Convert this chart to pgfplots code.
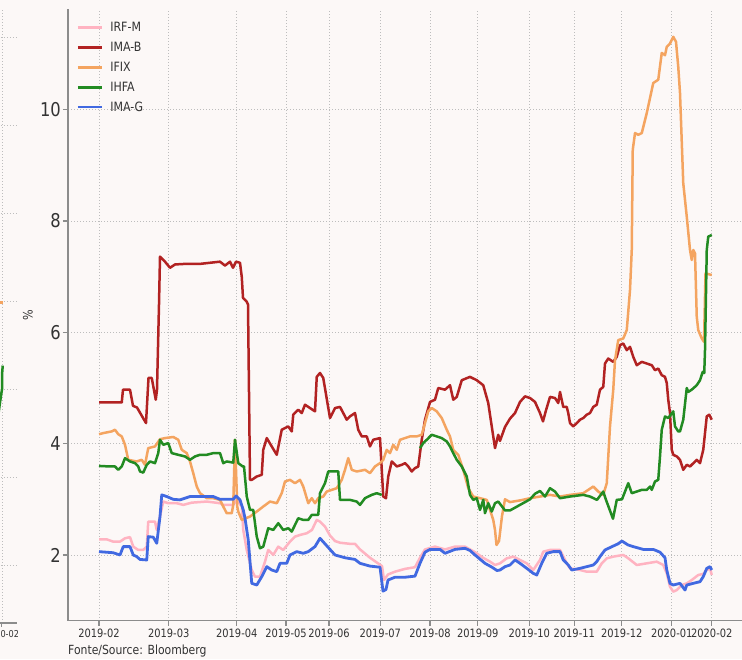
\documentclass[border=0pt]{standalone}
\usepackage{pgfplots}
\pgfplotsset{compat=1.18}
\usepackage{fontspec}
\setmainfont{DejaVu Sans}[FakeStretch=0.86]
\definecolor{bg}{HTML}{FCF8F7}
\definecolor{irfm}{HTML}{FFB3C1}
\definecolor{imab}{HTML}{B22222}
\definecolor{ifix}{HTML}{F4A460}
\definecolor{ihfa}{HTML}{228B22}
\definecolor{imag}{HTML}{4169E1}
\definecolor{spine}{HTML}{8C8C8C}
\definecolor{gridc}{HTML}{BDBDBD}
\definecolor{txt}{HTML}{333333}
\begin{document}
\begin{tikzpicture}[x=1pt,y=1pt]
\useasboundingbox (0,0) rectangle (742,659);
\fill[bg] (0,0) rectangle (742,659);
\clip (0,0) rectangle (742,659);
% fragment of the neighbouring chart
\begin{scope}
\clip (0,0) rectangle (17.5,659);
\begin{axis}[
 at={(-23pt,36pt)}, anchor=south west, scale only axis, width=40pt, height=615pt,
 xmin=-10, xmax=6, ymin=0.34, ymax=7.34,
 axis x line*=bottom, axis y line*=left,
 axis line style={spine, line width=1.1pt},
 xtick={0}, xticklabels={2020-02}, ytick={1,2,3,4,5,6,7}, yticklabels={},
 grid=major, major grid style={gridc, line width=0.9pt, dash pattern=on 1pt off 2pt},
 tick style={spine, line width=1pt}, major tick length=4pt, tick align=outside,
 x tick label style={font=\fontsize{9.5}{10}\selectfont, text=txt},
 every axis plot/.append style={line width=2.5pt, line join=round},
]
\addplot[ifix] coordinates {(-3,3.99) (0.4,3.99)};
\addplot[ihfa] coordinates {(-2,2.6) (-0.8,2.85) (0,3.0) (0.1,3.2) (0.3,3.27)};
\end{axis}
\end{scope}
% main chart
\begin{axis}[
 at={(68pt,38.3pt)}, anchor=south west, scale only axis, width=692pt, height=611.7pt,
 xmin=-12.4, xmax=264.4, ymin=0.819, ymax=11.81,
 axis x line*=bottom, axis y line*=left,
 axis line style={spine, line width=1.3pt},
 xtick={0,27.9,55.1,74.8,92,112.5,132.4,151.5,172.1,190.1,209.1,229.1,245.1},
 xticklabels={2019-02,2019-03,2019-04,2019-05,2019-06,2019-07,2019-08,2019-09,2019-10,2019-11,2019-12,2020-01,2020-02},
 ytick={2,4,6,8,10},
 grid=major, major grid style={gridc, line width=0.9pt, dash pattern=on 1pt off 2pt},
 tick style={spine, line width=1.1pt}, major tick length=5pt, tick align=outside,
 x tick label style={font=\fontsize{11.5}{12}\selectfont, text=txt},
 y tick label style={font=\fontsize{19}{20}\selectfont, text=txt, inner sep=2pt},
 /pgf/number format/assume math mode=true,
 ylabel={\%},
 every axis y label/.style={at={(axis description cs:-0.058,0.5)}, rotate=90, anchor=center, font=\fontsize{13}{14}\selectfont, text=txt},
 legend style={at={(axis description cs:0.012,0.982)}, anchor=north west, draw=none, fill=none, inner sep=0pt,
   font=\fontsize{12.8}{14}\selectfont, text=txt, row sep=5pt,
   /tikz/every odd column/.append style={column sep=5pt}},
 legend cell align=left,
 legend image code/.code={\draw[#1, line width=2.8pt] (0pt,0pt) -- (24pt,0pt);},
 unbounded coords=jump,
 every axis plot/.append style={line width=2.5pt, line join=round},
]
\addplot[irfm] coordinates {(0,2.28) (3.1,2.28) (5.7,2.24) (8.4,2.24) (10.4,2.30) (12.4,2.32) (13.7,2.15) (15.7,2.09) (17.7,2.09) (19.1,2.15) (19.7,2.60) (22.4,2.60) (23.1,2.45) (24.4,2.69) (25.7,2.96) (27.7,2.93) (31.1,2.93) (33.7,2.90) (37.1,2.94) (43.1,2.96) (48.4,2.93) (49.7,2.90) (53.7,2.90) (55.1,2.99) (57.1,2.87) (57.7,2.45) (59.1,2.09) (61.1,1.73) (62.4,1.61) (64.4,1.61) (66.4,1.88) (67.7,2.09) (69.7,2.00) (71.7,2.15) (73.7,2.09) (76.4,2.24) (78.4,2.33) (80.4,2.36) (83.1,2.39) (85.2,2.45) (87.1,2.63) (88.4,2.60) (90.4,2.51) (92.4,2.35) (94.4,2.25) (96.4,2.22) (100.4,2.20) (102.4,2.20) (104.4,2.10) (108.4,1.95) (111.6,1.85) (113.2,1.80) (114.0,1.55) (115.6,1.65) (118.4,1.70) (122.4,1.75) (126.4,1.78) (128.4,1.95) (130.4,2.10) (134.4,2.15) (138.4,2.10) (142.4,2.15) (146.4,2.15) (148.4,2.10) (150.4,2.05) (153.6,1.95) (156.4,1.88) (158.4,1.82) (160.4,1.85) (163.1,1.94) (165.7,1.97) (168.4,1.91) (171.1,1.85) (173.7,1.73) (176.4,1.91) (177.7,2.06) (180.4,2.09) (184.4,2.09) (187.1,1.85) (188.4,1.76) (192.4,1.73) (195.1,1.70) (199.1,1.70) (201.1,1.85) (203.1,1.94) (205.7,1.97) (209.7,2.00) (211.7,1.94) (215.1,1.82) (219.1,1.85) (223.1,1.88) (225.7,1.82) (227.1,1.67) (228.4,1.43) (229.7,1.34) (231.1,1.37) (233.1,1.46) (235.1,1.49) (237.1,1.55) (239.7,1.64) (241.7,1.66) (243.1,1.73) (244.4,1.76) (245.1,1.64)};
\addlegendentry{IRF-M}
\addplot[imab] coordinates {(0,4.74) (9.1,4.74) (9.6,4.97) (12.4,4.97) (13.6,4.68) (15.2,4.65) (18.8,4.37) (19.8,5.18) (21.1,5.18) (22.7,4.79) (23.2,4.97) (24.0,6.5) (24.4,7.36) (26.4,7.27) (28.4,7.16) (30.4,7.22) (34.4,7.23) (40.4,7.23) (44.4,7.25) (48.4,7.27) (50.4,7.20) (52.4,7.27) (53.6,7.16) (54.8,7.27) (56.4,7.25) (57.1,7.0) (57.6,6.62) (59.1,6.55) (59.6,6.5) (60.4,3.35) (61.1,3.35) (63.1,3.41) (65.1,3.44) (65.7,3.89) (67.1,4.10) (69.1,3.95) (71.1,3.80) (73.1,4.25) (75.7,4.31) (77.1,4.22) (77.7,4.52) (79.7,4.61) (81.1,4.55) (82.4,4.70) (84.4,4.64) (86.4,4.58) (87.1,5.20) (88.4,5.27) (89.7,5.18) (92.4,4.46) (94.4,4.64) (96.4,4.66) (97.7,4.55) (99.1,4.43) (100.4,4.49) (102.4,4.55) (103.7,4.25) (105.1,4.13) (107.1,4.13) (108.4,3.95) (109.7,4.07) (112.4,4.10) (113.7,3.05) (114.8,3.02) (115.7,3.41) (117.1,3.68) (119.1,3.59) (121.1,3.62) (122.4,3.65) (123.7,3.59) (125.1,3.50) (126.4,3.56) (127.7,3.59) (129.1,4.07) (130.4,4.43) (132.4,4.75) (134.4,4.79) (135.7,5.00) (138.4,4.97) (140.4,5.05) (141.7,4.79) (143.1,4.84) (145.1,5.14) (148.4,5.20) (151.1,5.14) (153.7,5.05) (155.7,4.73) (157.1,4.31) (158.4,3.92) (159.7,4.16) (160.4,4.05) (162.4,4.30) (164.4,4.45) (166.4,4.55) (168.4,4.75) (170.4,4.85) (172.4,4.82) (174.4,4.75) (176.4,4.55) (177.6,4.40) (178.8,4.60) (180.4,4.84) (182.4,4.82) (183.7,4.73) (184.4,4.93) (185.7,4.66) (187.1,4.66) (187.7,4.55) (188.4,4.37) (189.7,4.31) (191.1,4.37) (192.4,4.43) (193.7,4.46) (195.1,4.52) (196.4,4.55) (197.7,4.66) (199.1,4.70) (200.4,4.97) (201.7,5.02) (202.4,5.44) (203.7,5.53) (205.7,5.47) (207.1,5.56) (208.4,5.77) (209.7,5.80) (211.1,5.68) (212.4,5.74) (213.7,5.56) (215.1,5.41) (217.1,5.47) (219.1,5.44) (221.1,5.41) (222.4,5.32) (223.7,5.35) (225.1,5.23) (226.4,5.20) (227.1,5.09) (227.7,4.79) (228.4,4.55) (229.1,3.89) (229.7,3.80) (231.1,3.77) (232.4,3.71) (233.7,3.53) (235.1,3.62) (236.4,3.59) (239.1,3.71) (240.4,3.65) (241.7,3.89) (243.1,4.49) (244.1,4.52) (245.1,4.43)};
\addlegendentry{IMA-B}
\addplot[ifix] coordinates {(0,4.17) (1.7,4.19) (5.1,4.22) (6.4,4.25) (7.7,4.17) (9.1,4.13) (10.4,3.98) (11.7,3.71) (15.1,3.68) (17.1,3.71) (18.4,3.62) (19.7,3.92) (22.4,3.95) (24.4,4.08) (26.4,4.10) (29.7,4.12) (31.7,4.07) (33.1,3.89) (35.1,3.83) (36.4,3.68) (37.7,3.47) (39.1,3.23) (40.4,3.11) (43.1,3.02) (45.7,3.02) (48.4,2.99) (49.7,2.87) (51.1,2.75) (53.1,2.75) (53.7,2.90) (54.4,4.07) (55.3,2.87) (55.7,2.78) (57.1,2.63) (60.4,2.69) (63.1,2.78) (65.7,2.87) (68.4,2.96) (71.1,2.93) (73.1,3.11) (74.4,3.32) (76.4,3.35) (78.4,3.29) (80.4,3.35) (81.7,3.23) (83.7,2.93) (85.1,3.02) (86.4,2.93) (87.7,3.02) (89.7,3.05) (91.1,3.14) (93.1,3.17) (95.1,3.20) (97.1,3.35) (98.4,3.53) (99.7,3.74) (101.1,3.53) (103.1,3.50) (106.4,3.53) (108.4,3.47) (110.4,3.59) (112.4,3.65) (113.7,3.71) (115.1,3.89) (116.4,3.83) (117.7,3.98) (119.1,3.89) (120.4,4.07) (122.4,4.10) (124.4,4.13) (127.1,4.13) (129.1,4.16) (130.4,4.37) (131.7,4.58) (133.1,4.64) (135.1,4.58) (137.1,4.46) (139.1,4.25) (140.4,4.13) (141.7,3.89) (143.7,3.80) (145.7,3.53) (147.7,3.20) (149.7,3.05) (152.4,3.02) (155.1,2.99) (157.7,2.63) (158.4,2.45) (159.0,2.18) (160.0,2.25) (161.2,2.70) (162.4,3.00) (164.4,2.95) (168.4,2.98) (172.4,3.02) (176.4,3.05) (180.4,3.08) (184.4,3.05) (188.4,3.08) (193.7,3.11) (197.7,3.23) (199.7,3.14) (201.7,3.08) (203.1,3.29) (204.4,4.31) (205.7,4.97) (206.4,5.50) (207.7,5.86) (209.7,5.89) (211.1,6.04) (212.4,6.76) (213.1,7.48) (213.5,9.28) (214.4,9.58) (215.7,9.55) (217.1,9.58) (219.1,9.94) (221.7,10.48) (223.7,10.54) (225.1,11.02) (226.4,10.98) (227.1,11.13) (228.4,11.19) (229.7,11.31) (230.8,11.22) (231.7,10.77) (232.4,10.30) (233.7,8.68) (235.1,8.08) (236.4,7.48) (237.1,7.30) (237.7,7.48) (238.4,7.42) (239.1,6.28) (239.7,6.04) (241.1,5.89) (242.0,5.83) (242.6,7.06) (245.1,7.03)};
\addlegendentry{IFIX}
\addplot[ihfa] coordinates {(0,3.60) (4.4,3.59) (6.4,3.59) (7.7,3.53) (9.1,3.59) (10.4,3.74) (12.4,3.68) (14.4,3.65) (15.7,3.59) (16.4,3.50) (17.7,3.48) (19.1,3.62) (20.4,3.68) (22.4,3.65) (23.7,3.83) (24.4,4.07) (25.7,3.98) (27.7,4.01) (29.1,3.83) (31.7,3.80) (34.4,3.77) (36.4,3.71) (38.4,3.77) (40.4,3.80) (43.1,3.80) (45.7,3.83) (48.4,3.83) (49.7,3.65) (51.1,3.68) (53.7,3.66) (54.4,4.07) (55.7,3.65) (57.5,3.59) (58.0,3.59) (58.6,3.30) (59.1,3.05) (60.4,2.81) (61.7,2.81) (63.1,2.33) (64.4,2.12) (65.7,2.15) (67.7,2.48) (69.7,2.45) (71.7,2.57) (73.7,2.45) (75.7,2.48) (77.1,2.42) (79.7,2.66) (81.7,2.63) (83.7,2.63) (85.1,2.72) (87.7,2.72) (88.4,3.11) (90.4,3.29) (91.7,3.50) (95.7,3.50) (96.4,2.99) (100.4,2.99) (103.1,2.96) (104.4,2.90) (106.4,3.02) (109.1,3.08) (111.1,3.11) (113.1,3.08) (120,nan) (128.4,3.92) (129.7,4.01) (131.1,4.07) (133.1,4.16) (135.1,4.13) (137.1,4.10) (139.1,4.04) (140.4,3.95) (141.7,3.83) (143.1,3.71) (145.1,3.59) (147.1,3.41) (148.4,3.08) (149.7,2.99) (151.1,3.02) (152.4,2.81) (153.7,2.99) (154.4,2.75) (155.7,2.93) (157.1,2.78) (158.4,2.93) (159.7,2.96) (162.4,2.80) (164.4,2.80) (166.4,2.85) (168.4,2.90) (170.4,2.95) (172.4,3.00) (174.4,3.10) (176.4,3.15) (178.4,3.05) (180.4,3.20) (182.4,3.14) (184.4,3.02) (188.4,3.05) (193.7,3.08) (196.4,3.05) (199.2,2.99) (201.7,3.14) (202.8,2.99) (205.6,2.65) (207.1,2.99) (209.2,3.00) (211.7,3.29) (213.1,3.11) (215.1,3.14) (217.1,3.17) (219.1,3.17) (220.4,3.23) (221.1,3.17) (222.4,3.32) (223.7,3.35) (224.4,3.77) (225.1,4.25) (226.4,4.49) (227.7,4.46) (229.7,4.58) (230.4,4.31) (231.7,4.22) (232.4,4.22) (233.7,4.43) (235.1,5.00) (235.7,4.93) (237.1,4.97) (239.1,5.05) (240.4,5.14) (241.5,5.29) (242.1,5.27) (242.4,5.68) (243.1,7.48) (243.7,7.72) (245.1,7.75)};
\addlegendentry{IHFA}
\addplot[imag, line width=2.8pt] coordinates {(0,2.06) (5.7,2.04) (8.4,2.00) (9.7,2.15) (12.4,2.15) (13.7,2.00) (15.1,1.97) (16.4,1.92) (19.1,1.91) (19.7,2.33) (21.7,2.32) (23.1,2.21) (24.4,2.69) (25.1,3.08) (27.1,3.05) (29.7,3.00) (32.4,2.99) (36.4,3.05) (40.4,3.05) (45.7,3.05) (48.4,3.00) (53.7,3.00) (54.8,3.06) (56.4,2.99) (57.7,2.81) (58.4,2.66) (59.7,2.27) (61.1,1.49) (63.1,1.46) (65.1,1.61) (67.1,1.79) (69.1,1.73) (71.1,1.70) (72.4,1.85) (75.1,1.85) (76.4,2.00) (79.1,2.06) (81.7,2.03) (83.7,2.06) (86.4,2.15) (88.4,2.30) (90.4,2.20) (92.4,2.10) (94.4,2.00) (98.4,1.95) (102.4,1.92) (104.4,1.85) (108.4,1.80) (112.4,1.78) (113.6,1.35) (114.8,1.38) (115.6,1.55) (118.4,1.60) (122.4,1.60) (126.4,1.62) (128.4,1.85) (130.4,2.05) (132.4,2.10) (136.4,2.10) (138.4,2.03) (142.4,2.10) (146.4,2.12) (148.4,2.08) (150.4,2.00) (154.4,1.85) (157.2,1.78) (159.2,1.72) (160.4,1.73) (162.4,1.79) (164.4,1.82) (166.4,1.91) (168.4,1.85) (171.1,1.76) (173.7,1.67) (175.1,1.64) (177.1,1.85) (179.1,2.03) (181.7,2.06) (184.4,2.06) (185.7,1.91) (187.7,1.82) (189.1,1.73) (192.4,1.76) (195.1,1.79) (197.7,1.82) (199.1,1.88) (200.4,1.97) (202.4,2.09) (205.2,2.15) (207.6,2.20) (209.2,2.25) (211.6,2.18) (213.7,2.15) (217.7,2.10) (221.7,2.10) (224.4,2.05) (226.4,1.95) (227.1,1.73) (228.4,1.49) (229.7,1.46) (232.4,1.49) (234.4,1.37) (235.1,1.46) (237.7,1.49) (240.4,1.52) (241.7,1.61) (243.1,1.76) (244.4,1.79) (245.1,1.73)};
\addlegendentry{IMA-G}
\end{axis}
\node[anchor=base west, inner sep=0pt, font=\fontsize{12.6}{14}\selectfont, text=txt] at (68,5) {Fonte/Source: Bloomberg};
\end{tikzpicture}
\end{document}
